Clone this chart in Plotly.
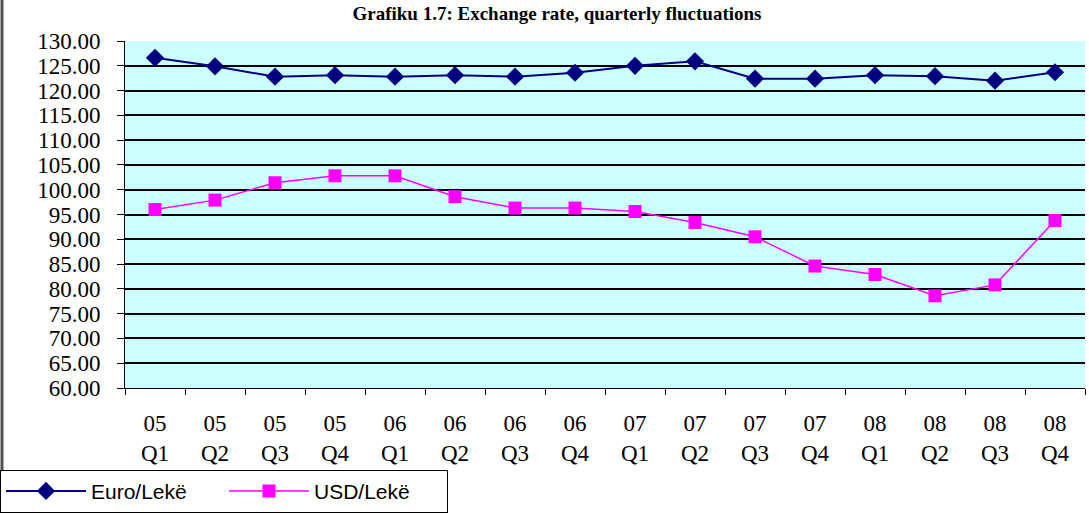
import plotly.graph_objects as go

# Quarterly exchange rates (lekë per unit of foreign currency)
quarters = ["05<br>Q1", "05<br>Q2", "05<br>Q3", "05<br>Q4",
            "06<br>Q1", "06<br>Q2", "06<br>Q3", "06<br>Q4",
            "07<br>Q1", "07<br>Q2", "07<br>Q3", "07<br>Q4",
            "08<br>Q1", "08<br>Q2", "08<br>Q3", "08<br>Q4"]
euro_leke = [126.6, 124.9, 122.8, 123.1, 122.8, 123.1, 122.8, 123.6,
             125.0, 125.9, 122.4, 122.4, 123.1, 122.9, 122.0, 123.7]
usd_leke = [96.0, 97.9, 101.4, 102.8, 102.8, 98.6, 96.3, 96.3,
            95.6, 93.4, 90.5, 84.6, 82.9, 78.6, 80.8, 93.8]
y_ticks = [60, 65, 70, 75, 80, 85, 90, 95, 100, 105, 110, 115, 120, 125, 130]

serif = "Liberation Serif, Times New Roman, serif"
sans = "Liberation Sans, Arial, sans-serif"

fig = go.Figure()
fig.add_trace(go.Scatter(
    x=quarters, y=euro_leke, name="Euro/Lekë", mode="lines+markers",
    line=dict(color="#000080", width=2),
    marker=dict(symbol="diamond", size=14, color="#000080"),
))
fig.add_trace(go.Scatter(
    x=quarters, y=usd_leke, name="USD/Lekë", mode="lines+markers",
    line=dict(color="#FF00FF", width=1.5),
    marker=dict(symbol="square", size=13, color="#FF00FF"),
))

fig.update_layout(
    width=1089, height=514,
    margin=dict(l=125, r=4, t=41, b=126),
    paper_bgcolor="white",
    plot_bgcolor="#CCFFFF",
    showlegend=True,
    legend=dict(
        orientation="h", xref="container", yref="container",
        x=0.0, y=0.086, xanchor="left", yanchor="top",
        bordercolor="black", borderwidth=1, bgcolor="white",
        font=dict(family=sans, size=21, color="black"),
        itemwidth=80, entrywidth=128, entrywidthmode="pixels",
    ),
    xaxis=dict(
        type="category", range=[-0.5, 15.5],
        showgrid=False, showline=True, linecolor="black", linewidth=1,
        ticks="outside", ticklen=6, tickcolor="black",
        tickson="boundaries", ticklabelstandoff=14,
        tickfont=dict(family=serif, size=23, color="black"),
        fixedrange=True,
    ),
    yaxis=dict(
        range=[60, 130], tickvals=y_ticks,
        ticktext=[f"{v:.2f}" for v in y_ticks],
        showgrid=True, gridcolor="black", gridwidth=2,
        showline=True, linecolor="black", linewidth=1,
        ticks="outside", ticklen=7, tickcolor="black",
        ticklabelstandoff=12,
        tickfont=dict(family=serif, size=23, color="black"),
        zeroline=False, fixedrange=True,
    ),
    title=dict(
        text="<b>Grafiku 1.7: Exchange rate, quarterly fluctuations</b>",
        font=dict(family=serif, size=19, color="black"),
        xref="paper", x=0.45, xanchor="center",
        yref="container", y=1.0, yanchor="top",
        pad=dict(t=7),
    ),
)

# outer chart border on the left edge
fig.add_shape(type="line", xref="paper", yref="paper",
              x0=-123 / 960, x1=-123 / 960, y0=-82 / 347, y1=41 / 347 + 1,
              line=dict(color="#505050", width=3))

fig.write_html("out.html")
